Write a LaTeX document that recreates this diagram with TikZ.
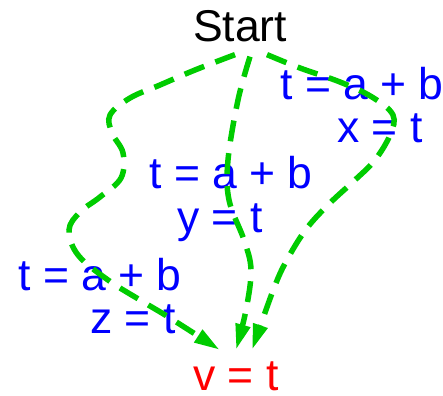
\documentclass[tikz,border=0pt]{standalone}
\usepackage{fontspec}
\setmainfont{Liberation Sans}
\usetikzlibrary{arrows.meta}
\definecolor{flowgreen}{RGB}{0,204,0}

\begin{document}
\begin{tikzpicture}[x=1pt, y=-1pt,
    lbl/.style={inner sep=0pt, anchor=base, font=\fontsize{44.5}{44}\selectfont},
    expr/.style={lbl, text=blue},
    flow/.style={flowgreen, line width=5.5pt, dash pattern=on 21pt off 12pt,
                 -{Triangle[length=26pt, width=14pt]}}]
  \useasboundingbox (0,0) rectangle (443,395);
  \node[lbl] (start) at (240,42) {Start};
  \node[expr] (r1) at (362,100) {t = a + b};
  \node[expr] (r2) at (380,143) {x = t};
  \node[expr] (m1) at (231,188) {t = a + b};
  \node[expr] (m2) at (220,232) {y = t};
  \node[expr] (l1) at (100,290) {t = a + b};
  \node[expr] (l2) at (133,333) {z = t};
  \node[lbl, text=red] (v) at (236,390) {v = t};
  \draw[flow] plot[smooth, tension=0.6] coordinates {([xshift=-5pt, yshift=-12pt]start.south)
    (195,70) (160,85) (130,98) (110,115) (112,133) (123,153) (121,178) (100,197)
    (80,212) (69,230) (78,255) (108,280) (140,300) (170,318) ([xshift=-16pt, yshift=11pt]v.north)};
  \draw[flow] plot[smooth, tension=0.6] coordinates {([xshift=10pt, yshift=-14pt]start.south)
    (238,100) (228,160) (229,200) (244,240) (251,270) (246,310) ([yshift=11pt]v.north)};
  \draw[flow] plot[smooth, tension=0.6] coordinates {([xshift=27pt, yshift=-12pt]start.south)
    (300,68) (340,82) (372,97) (393,115) (390,135) (375,160) (355,180) (330,203)
    (307,228) (288,258) (274,288) ([xshift=16pt, yshift=11pt]v.north)};
\end{tikzpicture}
\end{document}
